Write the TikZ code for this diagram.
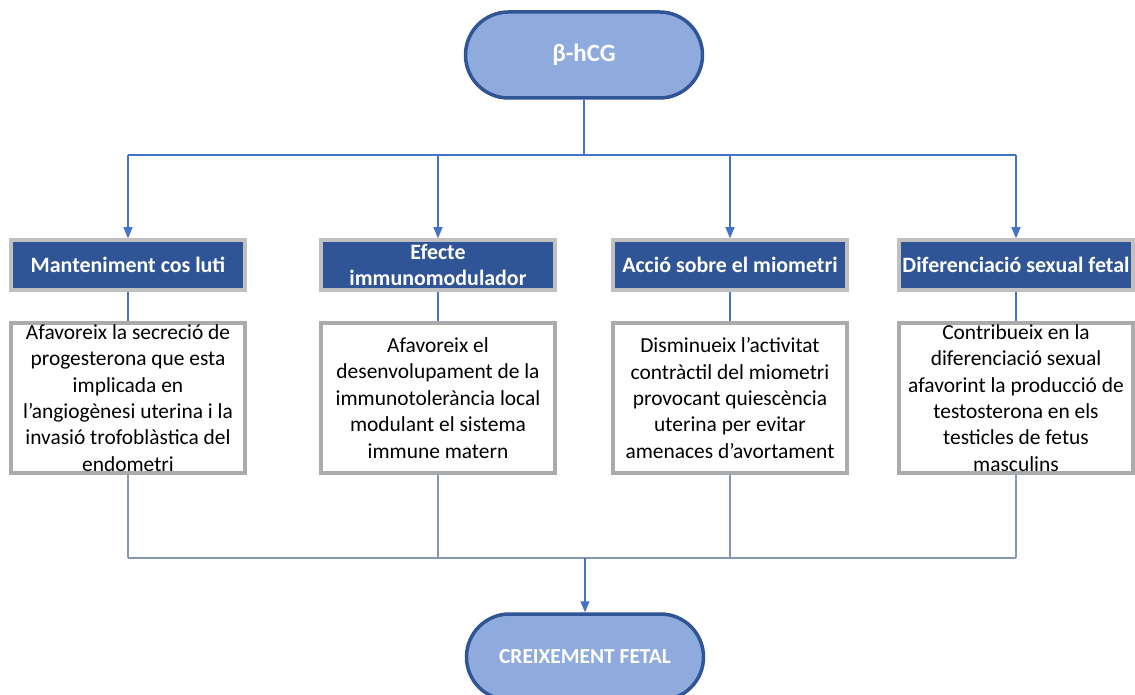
\documentclass[tikz,border=0pt]{standalone}
\usepackage{fontspec}
\setmainfont{Carlito}
\usetikzlibrary{arrows.meta}
\definecolor{pillfill}{HTML}{8FAADC}
\definecolor{pilldraw}{HTML}{2F5597}
\definecolor{headfill}{HTML}{2F5597}
\definecolor{headdraw}{HTML}{C0C0C0}
\definecolor{bodydraw}{HTML}{ABABAB}
\definecolor{linkblue}{HTML}{4472C4}
\definecolor{linkgray}{HTML}{8497B0}
\tikzset{
  pill/.style={draw=pilldraw, fill=pillfill, line width=3.5bp, rounded corners=43bp,
    minimum width=237bp, minimum height=86bp, inner sep=0pt, text=white,
    font=\fontsize{25}{28}\selectfont\bfseries},
  headbox/.style={draw=headdraw, fill=headfill, line width=3.5bp, minimum width=234bp,
    minimum height=50bp, inner sep=0pt, text=white, align=center,
    font=\fontsize{22}{27}\selectfont\bfseries},
  bodybox/.style={draw=bodydraw, fill=white, line width=4bp, minimum width=234bp,
    minimum height=150bp, inner sep=0pt, text=black,
    font=\fontsize{21.5}{26.5}\selectfont},
  link/.style={draw=linkblue, line width=1.1bp},
  arrowlink/.style={link, -{Triangle[width=9bp,length=11bp]}},
  graylink/.style={draw=linkgray, line width=1.1bp},
}
\newcommand{\bodytext}[1]{\parbox[c][140bp][c]{228bp}{\centering #1}}
\begin{document}
\begin{tikzpicture}[x=1bp,y=-1bp]
\useasboundingbox (0,0) rectangle (1135,695);
\fill[white] (0,0) rectangle (1135,695);

\node[pill] (top) at (584,55) {β-hCG};

\node[headbox] (h1) at (128,265) {Manteniment cos luti};
\node[headbox] (h2) at (438,265) {Efecte\\immunomodulador};
\node[headbox] (h3) at (730,265) {Acció sobre el miometri};
\node[headbox] (h4) at (1016,265) {Diferenciació sexual fetal};

\node[bodybox] (b1) at (128,398) {\bodytext{Afavoreix la secreció de\\progesterona que esta\\implicada en\\l’angiogènesi uterina i la\\invasió trofoblàstica del\\endometri}};
\node[bodybox] (b2) at (438,398) {\bodytext{Afavoreix el\\desenvolupament de la\\immunotolerància local\\modulant el sistema\\immune matern}};
\node[bodybox] (b3) at (730,398) {\bodytext{Disminueix l’activitat\\contràctil del miometri\\provocant quiescència\\uterina per evitar\\amenaces d’avortament}};
\node[bodybox] (b4) at (1016,398) {\bodytext{Contribueix en la\\diferenciació sexual\\afavorint la producció de\\testosterona en els\\testicles de fetus\\masculins}};

\node[pill, font=\fontsize{21.5}{24}\selectfont\bfseries] (bot) at (585,657) {CREIXEMENT FETAL};

\coordinate (bt) at (584,155);
\coordinate (bb) at (585,558);

\draw[link] (top.south) -- (bt);
\draw[link] (h1.north |- bt) -- (h4.north |- bt);
\foreach \i in {1,2,3,4} {
  \draw[arrowlink] (h\i.north |- bt) -- (h\i.north);
  \draw[link] (h\i.south) -- (b\i.north);
  \draw[graylink] (b\i.south) -- (b\i.south |- bb);
}
\draw[graylink] (b1.south |- bb) -- (b4.south |- bb);
\draw[arrowlink] (bb) -- (bot.north);
\end{tikzpicture}
\end{document}
